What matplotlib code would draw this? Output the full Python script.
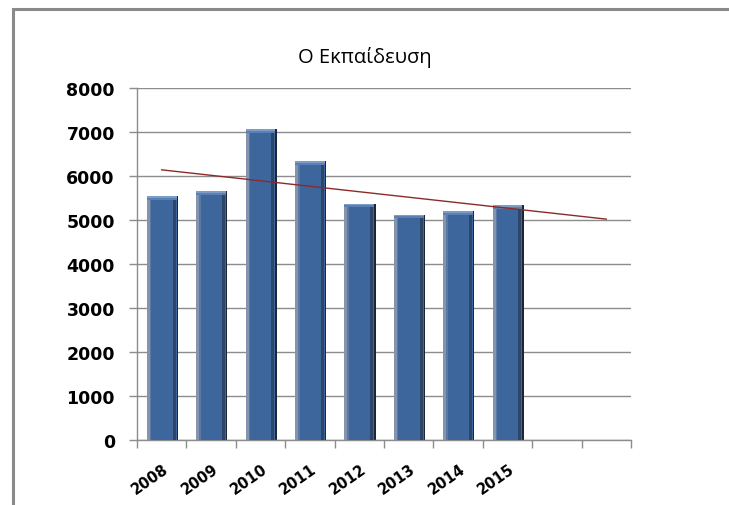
import numpy as np
import matplotlib
matplotlib.use("Agg")
import matplotlib.pyplot as plt
from matplotlib.patches import Rectangle

title = "Ο Εκπαίδευση"
years = ["2008", "2009", "2010", "2011", "2012", "2013", "2014", "2015", "", ""]
values = [5540, 5660, 7060, 6330, 5375, 5125, 5215, 5330]
yticks = [0, 1000, 2000, 3000, 4000, 5000, 6000, 7000, 8000]

fig = plt.figure(figsize=(7.29, 5.06), dpi=100)
fig.patch.set_facecolor("white")

# outer chart frame (top and left visible, extends past right/bottom)
fig.patches.append(Rectangle((13 / 729, -0.05), 1.2, 1 - 10 / 506 + 0.05,
                             transform=fig.transFigure, fill=False,
                             edgecolor="#8a8a8a", linewidth=2.2, zorder=0))

ax = fig.add_axes([137 / 729, 1 - 441 / 506, (631 - 137) / 729, (441 - 89) / 506])
n_slots = len(years)
ax.set_xlim(0, n_slots)
ax.set_ylim(0, 8000)

x = np.arange(len(values)) + 0.5
w = 0.6
vals = np.array(values, dtype=float)

# bars with simple "3D" shading
ax.bar(x + 0.03, vals, width=w, color="#1c2636", zorder=2, linewidth=0)
ax.bar(x, vals, width=w, color="#3d679c", zorder=3, linewidth=0)
ax.bar(x - w / 2 + 0.03, vals, width=0.06, color="#8594ad", zorder=4, linewidth=0)
ax.bar(x - w / 2 + 0.075, vals, width=0.03, color="#5a78a3", zorder=4, linewidth=0)
ax.bar(x + w / 2 - 0.05, vals, width=0.06, color="#2b4669", zorder=4, linewidth=0)
cap = 45
ax.bar(x, np.full_like(vals, cap), bottom=vals - cap, width=w, color="#7e9cc8",
       zorder=5, linewidth=0)
ax.bar(x, np.full_like(vals, cap), bottom=vals - 2 * cap, width=w, color="#5b80b3",
       zorder=5, linewidth=0)

# linear trendline with 2-period forecast
xi = np.arange(1, len(values) + 1)
m, b = np.polyfit(xi, vals, 1)
xt = np.array([1, n_slots])
ax.plot(xt - 0.5, m * xt + b, color="#8b2a2a", linewidth=1.0, zorder=6)

# grid & axes
ax.set_yticks(yticks)
ax.set_yticklabels([str(t) for t in yticks], fontsize=12.5, fontweight="bold",
                   family="DejaVu Sans")
ax.yaxis.grid(True, color="#8c8c8c", linewidth=1.0, zorder=0)
ax.set_axisbelow(True)
ax.tick_params(axis="y", length=6, width=1, color="#8c8c8c", pad=10)

ax.set_xticks(np.arange(0, n_slots + 1))
ax.set_xticklabels([])
ax.tick_params(axis="x", length=6, width=1, color="#8c8c8c")
for xc, lab in zip(np.arange(n_slots) + 0.5, years):
    if lab:
        ax.text(xc + 0.02, -0.058, lab, transform=ax.get_xaxis_transform(),
                rotation=35, rotation_mode="anchor", ha="right", va="top",
                fontsize=10.5, fontweight="bold", family="DejaVu Sans")

for s in ["top", "right"]:
    ax.spines[s].set_visible(False)
for s in ["left", "bottom"]:
    ax.spines[s].set_color("#8c8c8c")
    ax.spines[s].set_linewidth(1.0)

fig.text(365 / 729, 1 - 58 / 506, title, ha="center", va="center",
         fontsize=14.5, family=["Open Sans", "Noto Sans", "DejaVu Sans"])

fig.savefig("out.png", dpi=100, facecolor="white")
